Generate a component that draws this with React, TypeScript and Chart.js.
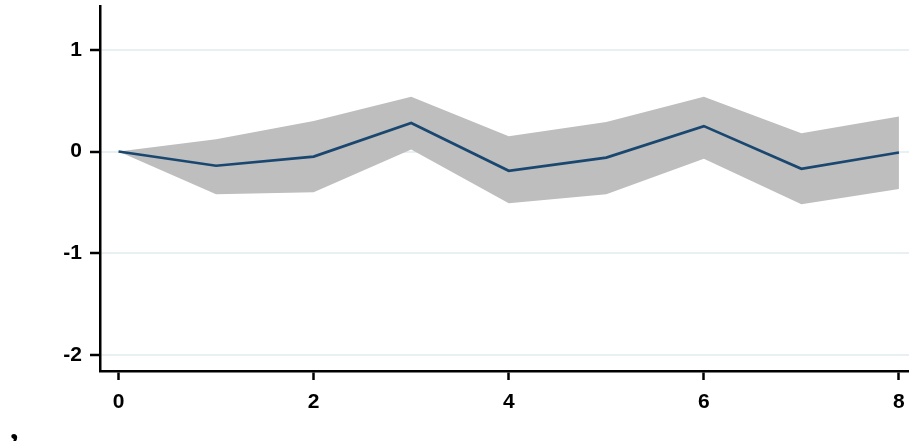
import React, { useEffect, useRef } from "react";
import { Chart, registerables } from "chart.js";

Chart.register(...registerables);

// Horizon steps
const steps = [0, 1, 2, 3, 4, 5, 6, 7, 8];
// Impulse response (line)
const irf = [0, -0.14, -0.05, 0.28, -0.19, -0.06, 0.25, -0.17, -0.01];
// Confidence band
const upperCI = [0, 0.12, 0.3, 0.54, 0.15, 0.29, 0.54, 0.18, 0.345];
const lowerCI = [0, -0.42, -0.4, 0.02, -0.51, -0.42, -0.07, -0.52, -0.37];
// Tick labels
const xTicks = [0, 2, 4, 6, 8];
const yTicks = [-2, -1, 0, 1];

const toPoints = (vals: number[]) => steps.map((x, i) => ({ x, y: vals[i] }));

export default function App() {
  const ref = useRef<HTMLCanvasElement | null>(null);

  useEffect(() => {
    if (!ref.current) return;
    const tickFont = { family: "'Liberation Sans', Arial, sans-serif", size: 21, weight: "bold" };
    const chart = new Chart(ref.current, {
      type: "line",
      data: {
        datasets: [
          {
            label: "irf",
            data: toPoints(irf),
            borderColor: "#1a476f",
            borderWidth: 2.7,
            pointRadius: 0,
            fill: false,
            tension: 0,
            order: 0,
          },
          {
            label: "upper",
            data: toPoints(upperCI),
            borderColor: "rgba(0,0,0,0)",
            borderWidth: 0,
            backgroundColor: "#bebebe",
            pointRadius: 0,
            fill: "+1",
            tension: 0,
            order: 1,
          },
          {
            label: "lower",
            data: toPoints(lowerCI),
            borderColor: "rgba(0,0,0,0)",
            borderWidth: 0,
            pointRadius: 0,
            fill: false,
            tension: 0,
            order: 1,
          },
        ],
      },
      options: {
        animation: false,
        responsive: false,
        layout: { padding: { top: 6, left: 0, right: 0, bottom: 0 } },
        plugins: { legend: { display: false }, tooltip: { enabled: false } },
        scales: {
          x: {
            type: "linear",
            min: -0.19,
            max: 8.103,
            afterFit: (s: any) => {
              s.height = 70;
              s.paddingLeft = 0;
              s.paddingRight = 0;
            },
            afterBuildTicks: (s: any) => {
              s.ticks = xTicks.map((v) => ({ value: v }));
            },
            grid: {
              drawOnChartArea: false,
              tickColor: "#000",
              tickLength: 9,
              tickWidth: 2.5,
            },
            border: { color: "#000", width: 2.5 },
            ticks: {
              color: "#000",
              font: tickFont,
              padding: 10,
              maxRotation: 0,
              autoSkip: false,
            },
          },
          y: {
            type: "linear",
            min: -2.16,
            max: 1.432,
            afterFit: (s: any) => {
              s.width = 100;
              s.paddingTop = 0;
              s.paddingBottom = 0;
            },
            afterBuildTicks: (s: any) => {
              s.ticks = yTicks.map((v) => ({ value: v }));
            },
            grid: {
              color: "#e8f0f2",
              lineWidth: 2,
              tickColor: "#000",
              tickLength: 10,
              tickWidth: 2.5,
            },
            border: { color: "#000", width: 2.5 },
            ticks: {
              color: "#000",
              font: tickFont,
              padding: 8,
              autoSkip: false,
            },
          },
        },
      },
    } as any);
    return () => chart.destroy();
  }, []);

  return (
    <div style={{ position: "absolute", left: 0, top: 0, width: 909, height: 441, background: "#fff", overflow: "hidden" }}>
      <canvas ref={ref} width={909} height={441} style={{ display: "block", width: 909, height: 441 }} />
      <div
        style={{
          position: "absolute",
          left: 10,
          top: 411,
          fontFamily: "'Liberation Serif', 'DejaVu Serif', serif",
          fontSize: 34,
          lineHeight: "34px",
          fontWeight: "bold",
          color: "#000",
        }}
      >
        ,
      </div>
    </div>
  );
}
